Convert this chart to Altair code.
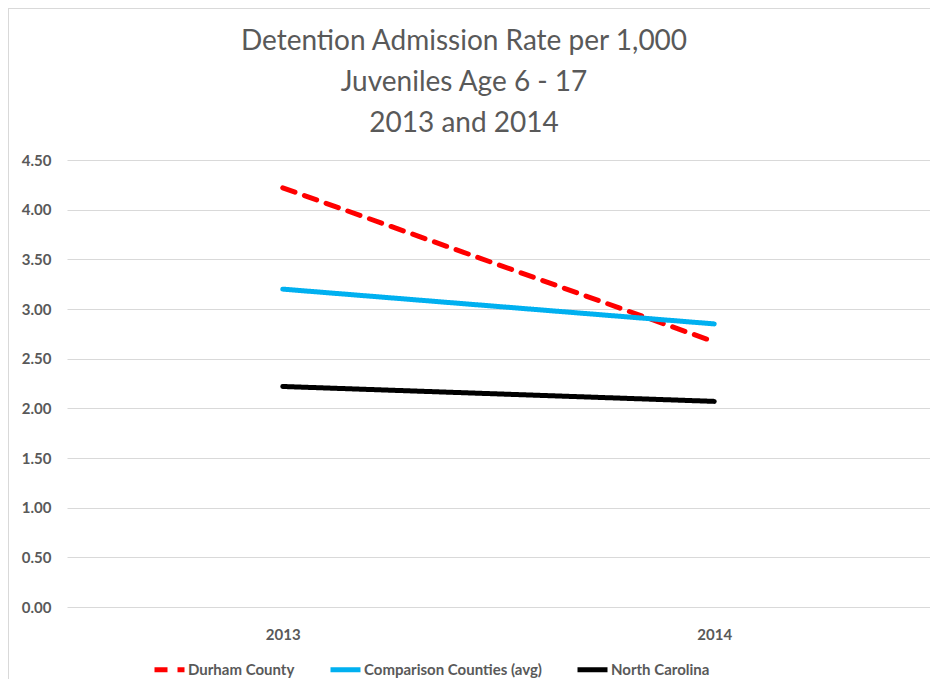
import altair as alt
import pandas as pd

years = ["2013", "2014"]
series = ["Durham County", "Comparison Counties (avg)", "North Carolina"]
durham = [4.22, 2.67]
comparison = [3.20, 2.85]
north_carolina = [2.22, 2.07]
y_ticks = [0, 0.5, 1.0, 1.5, 2.0, 2.5, 3.0, 3.5, 4.0, 4.5]
title_lines = ["Detention Admission Rate per 1,000", "Juveniles Age 6 - 17", "2013 and 2014"]

rows = []
for name, vals in zip(series, [durham, comparison, north_carolina]):
    for yr, v in zip(years, vals):
        rows.append({"Year": yr, "Series": name, "Rate": v})
df = pd.DataFrame(rows)

FONT = "Lato"
GREY = "#595959"

legend_opts = dict(title=None, orient="none", legendX=85, legendY=492,
                   direction="horizontal", symbolType="stroke",
                   symbolSize=900, symbolStrokeWidth=5, labelOffset=1,
                   columnPadding=25, labelFontSize=15, labelFontWeight="bold",
                   labelColor=GREY, labelFont=FONT, labelLimit=0)

lines = alt.Chart(df).mark_line(strokeWidth=5, strokeCap="round").encode(
    x=alt.X("Year:O", scale=alt.Scale(type="point", padding=0.5),
            axis=alt.Axis(title=None, labelAngle=0, ticks=False, domain=False,
                          labelPadding=20, labelFontSize=15, labelFontWeight="bold",
                          labelColor=GREY, labelFont=FONT, grid=False)),
    y=alt.Y("Rate:Q", scale=alt.Scale(domain=[0, 4.5], nice=False),
            axis=alt.Axis(title=None, values=y_ticks, format=".2f", ticks=False, domain=False,
                          labelPadding=16, labelFontSize=15, labelFontWeight="bold",
                          labelColor=GREY, labelFont=FONT, gridColor="#d9d9d9", gridWidth=1)),
    color=alt.Color("Series:N",
                    scale=alt.Scale(domain=series, range=["#FF0000", "#00B0F0", "#000000"]),
                    legend=alt.Legend(**legend_opts)),
    strokeDash=alt.StrokeDash("Series:N",
                              scale=alt.Scale(domain=series, range=[[13, 10], [1, 0], [1, 0]]),
                              legend=alt.Legend(**legend_opts)),
)

one = pd.DataFrame({"k": [0]})
left_border = alt.Chart(one).mark_rule(color="#d9d9d9", strokeWidth=1).encode(
    x=alt.value(-58.5), y=alt.value(-152), y2=alt.value(520)
)
top_border = alt.Chart(one).mark_rule(color="#d9d9d9", strokeWidth=1).encode(
    x=alt.value(-59), x2=alt.value(863), y=alt.value(-151.5)
)

title_layers = []
for txt, ypos in zip(title_lines, [-110, -69, -28]):
    tdf = pd.DataFrame({"t": [txt]})
    title_layers.append(
        alt.Chart(tdf).mark_text(font=FONT, fontSize=28, color=GREY, align="center",
                                 baseline="alphabetic").encode(
            text="t:N", x=alt.value(397), y=alt.value(ypos)
        )
    )

chart = alt.layer(left_border, top_border, *title_layers, lines).properties(
    width=863, height=447,
    padding={"left": 59, "top": 152, "right": 0, "bottom": 72},
    autosize=alt.AutoSizeParams(type="none"),
).configure_view(stroke=None)

chart.save("out.html", embed_options={"renderer": "svg", "actions": False})
